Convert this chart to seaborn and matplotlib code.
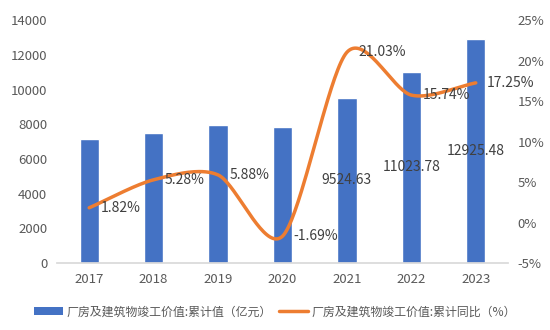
import numpy as np
import pandas as pd
import matplotlib
matplotlib.use("Agg")
import matplotlib.pyplot as plt
from matplotlib.patches import Patch
from matplotlib.lines import Line2D
import seaborn as sns

years = ["2017", "2018", "2019", "2020", "2021", "2022", "2023"]
values = [7150, 7510, 7950, 7830, 9524.63, 11023.78, 12925.48]
growth = [1.82, 5.28, 5.88, -1.69, 21.03, 15.74, 17.25]
value_labels = ["", "", "", "", "9524.63", "11023.78", "12925.48"]
bar_name = "厂房及建筑物竣工价值:累计值（亿元）"
line_name = "厂房及建筑物竣工价值:累计同比（%）"

sns.set_theme(style="white")
plt.rcParams['font.family'] = ['Noto Sans CJK SC', 'DejaVu Sans']

BLUE = "#4472C4"
ORANGE = "#ED7D31"
TXT = "#595959"

fig = plt.figure(figsize=(5.5, 3.3), dpi=100)
ax = fig.add_axes([0.1036, 0.203, 0.82, 0.736])

df = pd.DataFrame({"year": years, "value": values})
sns.barplot(data=df, x="year", y="value", color=BLUE, saturation=1, width=0.3, ax=ax)
ax.set_ylim(0, 14000)
ax.set_yticks(range(0, 14001, 2000))
ax.set_xlim(-0.5, 6.5)
ax.set_xlabel("")
ax.set_ylabel("")
for s in ["top", "left", "right"]:
    ax.spines[s].set_visible(False)
ax.spines["bottom"].set_color("#D9D9D9")
ax.tick_params(axis="both", colors=TXT, labelsize=9.5, length=0)
ax.tick_params(axis="y", pad=7)
ax.tick_params(axis="x", pad=7)

for i, (v, lab) in enumerate(zip(values, value_labels)):
    if lab:
        ax.text(i, v / 2, lab, ha="center", va="center", fontsize=10, color="#404040")

# smooth curve (cardinal spline through data points)
xs = np.arange(len(growth), dtype=float)
ys = np.array(growth, dtype=float)
px = np.concatenate([[2 * xs[0] - xs[1]], xs, [2 * xs[-1] - xs[-2]]])
py = np.concatenate([[2 * ys[0] - ys[1]], ys, [2 * ys[-1] - ys[-2]]])
tension = 0.85
sx, sy = [], []
t = np.linspace(0, 1, 40)
for k in range(1, len(px) - 2):
    p0, p1, p2, p3 = [np.array([px[j], py[j]]) for j in (k - 1, k, k + 1, k + 2)]
    m1 = tension * (p2 - p0) / 2
    m2 = tension * (p3 - p1) / 2
    for tt in t:
        h00 = 2 * tt**3 - 3 * tt**2 + 1
        h10 = tt**3 - 2 * tt**2 + tt
        h01 = -2 * tt**3 + 3 * tt**2
        h11 = tt**3 - tt**2
        pt = h00 * p1 + h10 * m1 + h01 * p2 + h11 * m2
        sx.append(pt[0]); sy.append(pt[1])

ax2 = ax.twinx()
sns.lineplot(x=sx, y=sy, color=ORANGE, linewidth=2.5, ax=ax2, sort=False, estimator=None)
ax2.set_ylim(-5, 25)
ax2.set_yticks(range(-5, 26, 5))
ax2.set_yticklabels([f"{v}%" for v in range(-5, 26, 5)])
ax2.set_xlim(-0.5, 6.5)
for s in ["top", "left", "right", "bottom"]:
    ax2.spines[s].set_visible(False)
ax2.tick_params(axis="y", colors=TXT, labelsize=9.5, length=0, pad=7)
ax2.set_ylabel("")

for i, g in enumerate(growth):
    ax2.annotate(f"{g:.2f}%", (i, g), xytext=(8, 0), textcoords="offset points",
                 ha="left", va="center", fontsize=10, color="#404040")

handles = [Patch(facecolor=BLUE, edgecolor="none"),
           Line2D([0], [0], color=ORANGE, linewidth=2.5)]
fig.legend(handles, [bar_name, line_name], loc="center", bbox_to_anchor=(0.5, 0.055),
           ncol=2, frameon=False, fontsize=8.6, labelcolor=TXT, handlelength=2.4,
           handletextpad=0.3, columnspacing=0.6)

fig.savefig("out.png", dpi=100)
